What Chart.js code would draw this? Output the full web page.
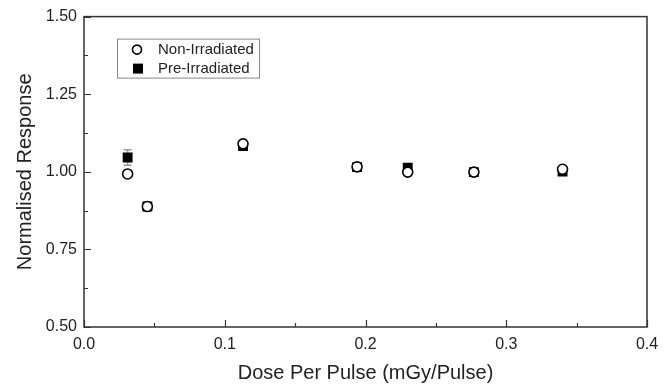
<!DOCTYPE html>
<html>
<head>
<meta charset="utf-8">
<script src="https://cdn.jsdelivr.net/npm/chart.js@4"></script>
<style>
  html, body { margin: 0; padding: 0; background: #fff; }
  #wrap { width: 672px; height: 389px; }
</style>
</head>
<body>
<div id="wrap"><canvas id="chart" width="672" height="389"></canvas></div>
<script>
// Dose per pulse (mGy/Pulse) for each measurement
const dosePerPulse = [0.031, 0.045, 0.113, 0.194, 0.230, 0.277, 0.340];
const nonIrradiated = [0.993, 0.888, 1.090, 1.016, 0.999, 0.999, 1.008];
const preIrradiated = [1.046, 0.888, 1.083, 1.015, 1.013, 0.999, 1.001];
const preIrradiatedErr = [0.025, 0, 0, 0, 0, 0, 0];

const xTicks = [0.0, 0.1, 0.2, 0.3, 0.4];
const yTicks = [0.50, 0.75, 1.00, 1.25, 1.50];

const FONT = "'Liberation Sans', Arial, sans-serif";
const INK = "#222";

const toPoints = (ys) => dosePerPulse.map((x, i) => ({ x, y: ys[i] }));

// frame, inward ticks, error bars and the boxed legend
const framePlugin = {
  id: "frame",
  beforeDatasetsDraw(chart) {
    const { ctx, scales: { x, y } } = chart;
    ctx.save();
    ctx.strokeStyle = "#999";
    ctx.lineWidth = 1.5;
    preIrradiatedErr.forEach((e, i) => {
      if (!e) return;
      const px = x.getPixelForValue(dosePerPulse[i]);
      const top = y.getPixelForValue(preIrradiated[i] + e);
      const bot = y.getPixelForValue(preIrradiated[i] - e);
      ctx.beginPath();
      ctx.moveTo(px, top); ctx.lineTo(px, bot);
      ctx.moveTo(px - 4, top); ctx.lineTo(px + 4, top);
      ctx.moveTo(px - 4, bot); ctx.lineTo(px + 4, bot);
      ctx.stroke();
    });
    ctx.restore();
  },
  afterDraw(chart) {
    const { ctx, chartArea: a, scales: { x, y } } = chart;
    ctx.save();
    ctx.strokeStyle = "#333";
    ctx.lineWidth = 1.5;
    ctx.strokeRect(a.left, a.top, a.right - a.left, a.bottom - a.top);

    ctx.lineWidth = 1.2;
    ctx.beginPath();
    for (let v = 0; v <= 0.4001; v += 0.05) {
      const px = Math.round(x.getPixelForValue(v)) + 0.5;
      const len = Math.abs(v * 10 - Math.round(v * 10)) < 1e-6 ? 7 : 4;
      ctx.moveTo(px, a.bottom); ctx.lineTo(px, a.bottom - len);
    }
    for (let v = 0.5; v <= 1.5001; v += 0.125) {
      const py = Math.round(y.getPixelForValue(v)) + 0.5;
      const len = Math.abs(v * 4 - Math.round(v * 4)) < 1e-6 ? 7 : 4;
      ctx.moveTo(a.left, py); ctx.lineTo(a.left + len, py);
    }
    ctx.stroke();

    // legend box
    const bx = a.left + 33, by = a.top + 22, bw = 142, bh = 39;
    ctx.strokeStyle = "#888";
    ctx.lineWidth = 1;
    ctx.strokeRect(bx + 0.5, by + 0.5, bw, bh);
    ctx.font = "15px " + FONT;
    ctx.fillStyle = INK;
    ctx.textBaseline = "middle";
    ctx.fillText("Non-Irradiated", bx + 41, by + 11);
    ctx.fillText("Pre-Irradiated", bx + 41, by + 30);
    ctx.strokeStyle = "#000";
    ctx.lineWidth = 1.6;
    ctx.beginPath();
    ctx.arc(bx + 20, by + 11, 4.5, 0, Math.PI * 2);
    ctx.stroke();
    ctx.fillStyle = "#000";
    ctx.fillRect(bx + 16, by + 25, 10, 10);
    ctx.restore();
  }
};

new Chart(document.getElementById("chart"), {
  type: "scatter",
  data: {
    datasets: [
      {
        label: "Non-Irradiated",
        data: toPoints(nonIrradiated),
        pointStyle: "circle",
        pointRadius: 5,
        pointBorderWidth: 1.6,
        pointBackgroundColor: "#fff",
        pointBorderColor: "#000",
      },
      {
        label: "Pre-Irradiated",
        data: toPoints(preIrradiated),
        pointStyle: "rect",
        pointRadius: 7,
        pointBorderWidth: 0,
        pointBackgroundColor: "#000",
        pointBorderColor: "#000",
      },
    ],
  },
  options: {
    responsive: false,
    animation: false,
    layout: { padding: { top: 15, right: 25, left: 0, bottom: 0 } },
    plugins: { legend: { display: false }, tooltip: { enabled: false } },
    scales: {
      x: {
        type: "linear",
        min: 0,
        max: 0.4,
        afterBuildTicks: (s) => { s.ticks = xTicks.map((value) => ({ value })); },
        afterFit: (s) => { s.height = 62; },
        grid: { display: false, drawTicks: false },
        border: { display: false },
        ticks: {
          padding: 8,
          color: INK,
          font: { family: FONT, size: 16 },
          callback: (v) => v.toFixed(1),
        },
        title: {
          display: true,
          text: "Dose Per Pulse (mGy/Pulse)",
          color: INK,
          font: { family: FONT, size: 20 },
          padding: { top: 0, bottom: 4 },
        },
      },
      y: {
        type: "linear",
        min: 0.5,
        max: 1.5,
        afterBuildTicks: (s) => { s.ticks = yTicks.map((value) => ({ value })); },
        afterFit: (s) => { s.width = 84; },
        grid: { display: false, drawTicks: false },
        border: { display: false },
        ticks: {
          padding: 7,
          color: INK,
          font: { family: FONT, size: 16 },
          callback: (v) => v.toFixed(2),
        },
        title: {
          display: true,
          text: "Normalised Response",
          color: INK,
          font: { family: FONT, size: 20 },
          padding: { top: 13, bottom: 0 },
        },
      },
    },
  },
  plugins: [framePlugin],
});
</script>
</body>
</html>
